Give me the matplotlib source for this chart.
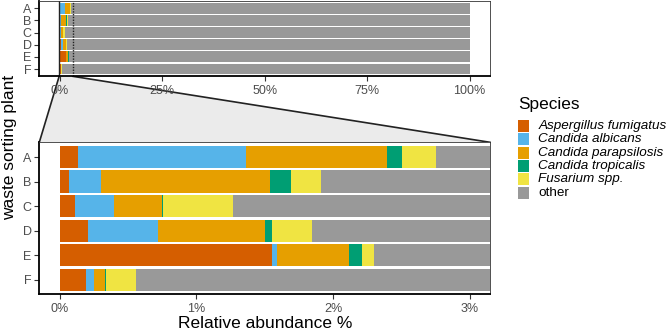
import matplotlib
matplotlib.use("Agg")
import matplotlib.pyplot as plt
from matplotlib.patches import Polygon
from matplotlib.lines import Line2D
import numpy as np

plt.rcParams["font.family"] = ["Liberation Sans", "DejaVu Sans"]

# ---- data (relative abundance, %) ----
plants = ["A", "B", "C", "D", "E", "F"]
species = ["Aspergillus fumigatus", "Candida albicans", "Candida parapsilosis",
           "Candida tropicalis", "Fusarium spp.", "other"]
aspergillus = [0.133, 0.069, 0.108, 0.208, 1.551, 0.194]
albicans = [1.228, 0.232, 0.288, 0.510, 0.041, 0.058]
parapsilosis = [1.035, 1.235, 0.351, 0.784, 0.529, 0.081]
tropicalis = [0.107, 0.156, 0.010, 0.051, 0.092, 0.005]
fusarium = [0.249, 0.219, 0.514, 0.295, 0.086, 0.219]
known = np.array([aspergillus, albicans, parapsilosis, tropicalis, fusarium])
other = list(100 - known.sum(axis=0))
series = [aspergillus, albicans, parapsilosis, tropicalis, fusarium, other]
colors = ["#D55E00", "#56B4E9", "#E69F00", "#009E73", "#F0E442", "#999999"]

zoom_lim = (-0.15, 3.15)

W, H = 669, 334
fig = plt.figure(figsize=(W / 100, H / 100), dpi=100)


def px_axes(left, top, right, bottom):
    return fig.add_axes([left / W, 1 - bottom / H, (right - left) / W, (bottom - top) / H])


ax_top = px_axes(39.3, 1, 490, 76.3)
ax_bot = px_axes(39.3, 142.3, 490, 294.3)

ypos = np.arange(len(plants))


def stacked(ax):
    left = np.zeros(len(plants))
    for vals, col in zip(series, colors):
        ax.barh(ypos, vals, left=left, height=0.9, color=col, linewidth=0)
        left += np.array(vals)
    ax.set_yticks(ypos)
    ax.set_yticklabels(plants)
    ax.set_ylim(len(plants) - 0.4, -0.6)
    ax.tick_params(axis="both", labelsize=9, labelcolor="#4D4D4D", color="#333333",
                   length=3.5, width=0.8, pad=2)
    ax.tick_params(axis="x", pad=2.5)
    for side in ["left", "bottom"]:
        ax.spines[side].set_linewidth(1.3)
    for side in ["top", "right"]:
        ax.spines[side].set_linewidth(0.6)
        ax.spines[side].set_color("#333333")


stacked(ax_top)
ax_top.set_xlim(-5, 105)
ax_top.set_xticks([0, 25, 50, 75, 100])
ax_top.set_xticklabels(["0%", "25%", "50%", "75%", "100%"])
ax_top.axvline(zoom_lim[0], color="#222222", lw=1.0)
ax_top.axvline(zoom_lim[1], color="#222222", lw=1.0, ls=(0, (1, 1)))

stacked(ax_bot)
ax_bot.set_xlim(*zoom_lim)
ax_bot.set_xticks([0, 1, 2, 3])
ax_bot.set_xticklabels(["0%", "1%", "2%", "3%"])

# connector between zoom window and lower panel
fig.canvas.draw()
to_fig = fig.transFigure.inverted()
p1 = to_fig.transform(ax_top.transData.transform((zoom_lim[0], len(plants) - 0.4)))
p2 = to_fig.transform(ax_top.transData.transform((zoom_lim[1], len(plants) - 0.4)))
p3 = to_fig.transform(ax_bot.transAxes.transform((1, 1)))
p4 = to_fig.transform(ax_bot.transAxes.transform((0, 1)))
fig.patches.append(Polygon([p1, p2, p3, p4], closed=True, transform=fig.transFigure,
                           facecolor="#EBEBEB", edgecolor="none", zorder=-2))
for a, b in [(p1, p4), (p2, p3)]:
    fig.lines.append(Line2D([a[0], b[0]], [a[1], b[1]], transform=fig.transFigure,
                            color="#222222", lw=1.2, zorder=-1))

fig.text(265 / W, 1 - 324 / H, "Relative abundance %", ha="center", va="center", fontsize=12.5)
fig.text(9.5 / W, 1 - 147.5 / H, "waste sorting plant", ha="center", va="center",
         rotation=90, fontsize=12.5)

# legend
fig.text(517.7 / W, 1 - 105 / H, "Species", ha="left", va="center", fontsize=12.4)
for i, (name, col) in enumerate(zip(species, colors)):
    top = 120 + i * 13.3
    fig.patches.append(plt.Rectangle((517.7 / W, 1 - (top + 12) / H), 11.3 / W, 12 / H,
                                     transform=fig.transFigure, facecolor=col,
                                     edgecolor="none"))
    fig.text(538.3 / W, 1 - (top + 6) / H, name, ha="left", va="center", fontsize=9.7,
             style="normal" if name == "other" else "italic")

fig.savefig("out.png", dpi=100)
